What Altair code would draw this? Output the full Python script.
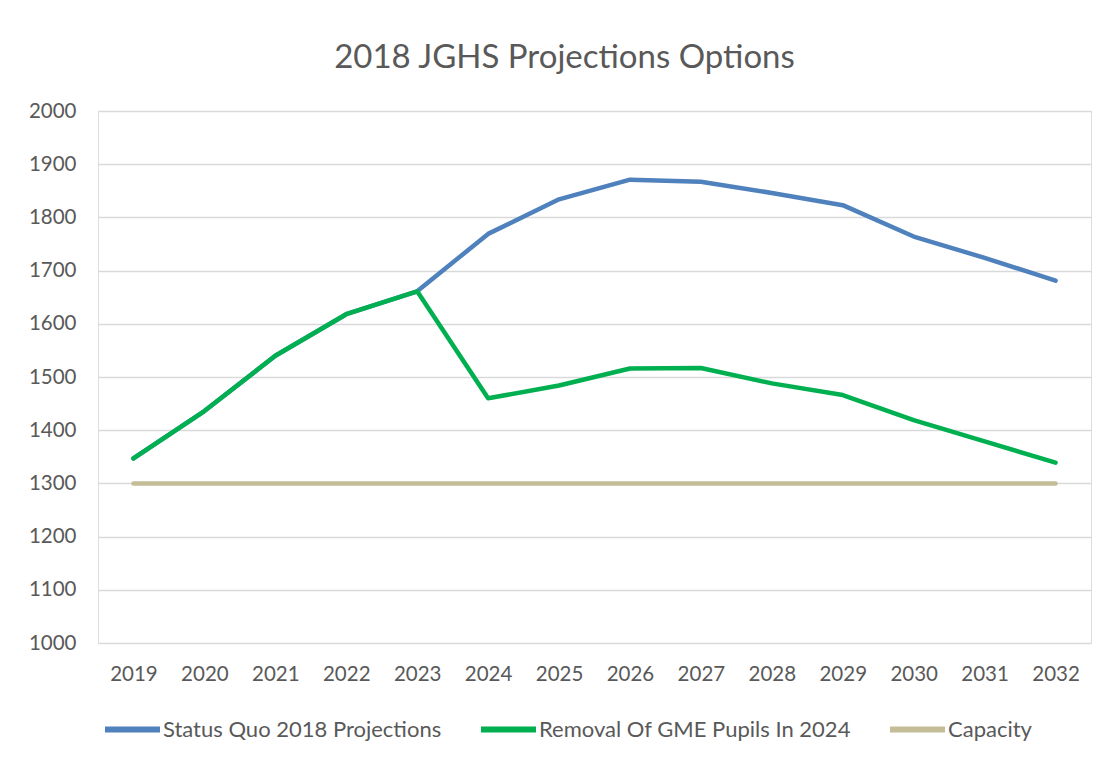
import altair as alt
import pandas as pd

years = ["2019", "2020", "2021", "2022", "2023", "2024", "2025",
         "2026", "2027", "2028", "2029", "2030", "2031", "2032"]
status_quo = [1347, 1436, 1540, 1618, 1661, 1769, 1834,
              1871, 1867, 1846, 1823, 1764, 1724, 1681]
removal_gme = [1347, 1436, 1540, 1618, 1661, 1460, 1484,
               1516, 1517, 1488, 1466, 1419, 1379, 1339]
capacity = [1300] * 14

series_names = ["Status Quo 2018 Projections", "Removal Of GME Pupils In 2024", "Capacity"]
series_colors = ["#4F81BD", "#00B050", "#C4BD97"]

rows = []
for name, vals in zip(series_names, [status_quo, removal_gme, capacity]):
    for y, v in zip(years, vals):
        rows.append({"Year": y, "Value": v, "Series": name})
df = pd.DataFrame(rows)

FONT = "Lato"
GREY = "#595959"

chart = alt.Chart(df).mark_line(strokeWidth=4.5, strokeCap="round", strokeJoin="round").encode(
    x=alt.X("Year:O", sort=years,
            scale=alt.Scale(type="point", padding=0.5),
            axis=alt.Axis(title=None, labelAngle=0, labelFontSize=20.5, labelColor=GREY,
                          labelFont=FONT, labelPadding=21, domain=False, ticks=False,
                          grid=False)),
    y=alt.Y("Value:Q",
            scale=alt.Scale(domain=[1000, 2000], nice=False, zero=False),
            axis=alt.Axis(title=None, values=list(range(1000, 2001, 100)), format="d",
                          labelFontSize=20.5, labelColor=GREY, labelFont=FONT,
                          labelPadding=22, domain=False, ticks=False,
                          gridColor="#D9D9D9", gridWidth=1.5)),
    color=alt.Color("Series:N",
                    scale=alt.Scale(domain=series_names, range=series_colors),
                    legend=alt.Legend(title=None, orient="none", direction="horizontal",
                                      legendX=4, legendY=588,
                                      symbolType="stroke", symbolSize=3025,
                                      symbolStrokeWidth=6, labelFontSize=22,
                                      labelFont=FONT, labelColor=GREY, labelOffset=0,
                                      columnPadding=27, gridAlign="none",
                                      labelLimit=400)),
).properties(
    width=993,
    height=532,
    title=alt.TitleParams("2018 JGHS Projections Options", fontSize=33, font=FONT,
                          color=GREY, fontWeight="normal", anchor="middle",
                          dx=-30, offset=0, baseline="alphabetic"),
    autosize=alt.AutoSizeParams(type="none"),
    padding={"left": 90, "top": 103, "right": 8, "bottom": 109},
).configure_view(stroke=None).configure(background="white")

chart.save("out.html", embed_options={"renderer": "svg", "actions": False})
